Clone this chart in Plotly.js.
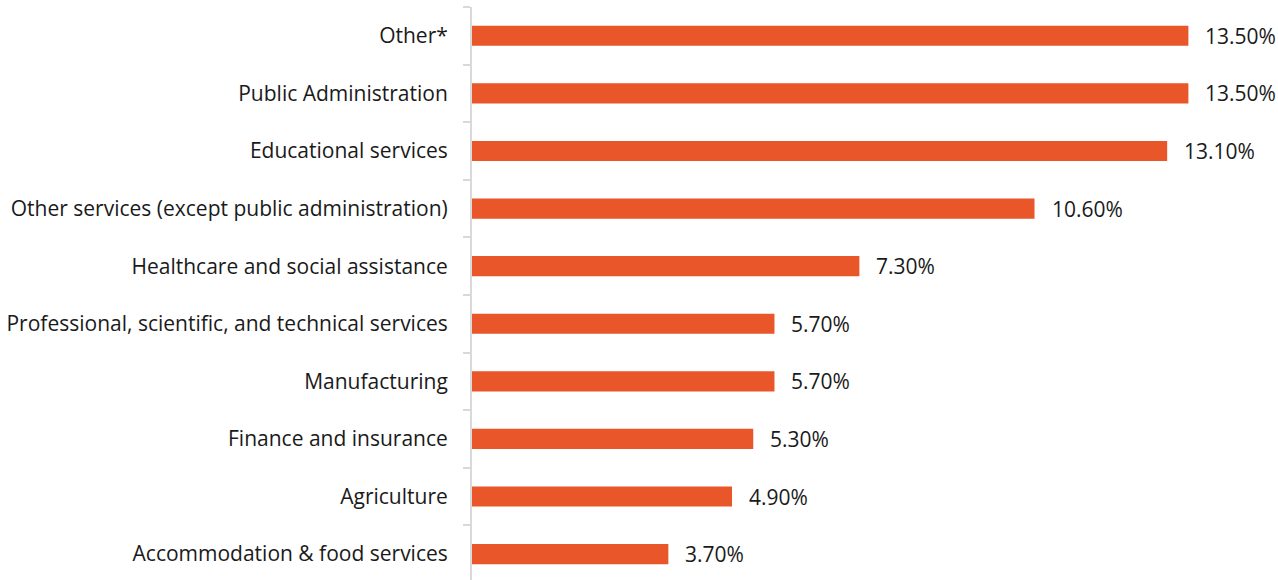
<!DOCTYPE html>
<html>
<head>
<meta charset="utf-8">
<script src="https://cdn.plot.ly/plotly-3.0.1.min.js"></script>
<style>html,body{margin:0;padding:0;background:#fff}#chart{width:1278px;height:580px}</style>
</head>
<body>
<div id="chart"></div>
<script>
// bottom to top
const categories = [
  "Accommodation & food services",
  "Agriculture",
  "Finance and insurance",
  "Manufacturing",
  "Professional, scientific, and technical services",
  "Healthcare and social assistance",
  "Other services (except public administration)",
  "Educational services",
  "Public Administration",
  "Other*"
];
const values = [3.7, 4.9, 5.3, 5.7, 5.7, 7.3, 10.6, 13.1, 13.5, 13.5];
const valueLabels = values.map(v => v.toFixed(2) + "%");

const FONT = "'Open Sans', sans-serif";

const trace = {
  type: "bar",
  orientation: "h",
  x: values,
  y: categories,
  width: 0.35,
  marker: {color: "#E8562A"},
  hoverinfo: "skip"
};

const annotations = categories.map((c, i) => ({
  x: values[i], y: c, xref: "x", yref: "y",
  text: valueLabels[i], showarrow: false,
  xanchor: "left", yanchor: "middle", xshift: 15,
  font: {family: FONT, size: 21, color: "#1a1a1a"}
}));

const layout = {
  width: 1278, height: 580,
  margin: {l: 472, r: 10, t: 7, b: 0},
  paper_bgcolor: "#fff", plot_bgcolor: "#fff",
  showlegend: false,
  xaxis: {range: [0, 15], visible: false, fixedrange: true},
  yaxis: {
    type: "category",
    range: [-0.45, 9.5],
    showline: true, linecolor: "#d9d9d9", linewidth: 2,
    ticks: "outside", tickson: "boundaries", ticklen: 7, tickcolor: "#d9d9d9", tickwidth: 2,
    ticklabelstandoff: 18,
    showgrid: false, zeroline: false,
    tickfont: {family: FONT, size: 21, color: "#1a1a1a"},
    automargin: false
  },
  annotations: annotations,
  font: {family: FONT}
};

Plotly.newPlot("chart", [trace], layout, {displayModeBar: false, staticPlot: true});
</script>
</body>
</html>
